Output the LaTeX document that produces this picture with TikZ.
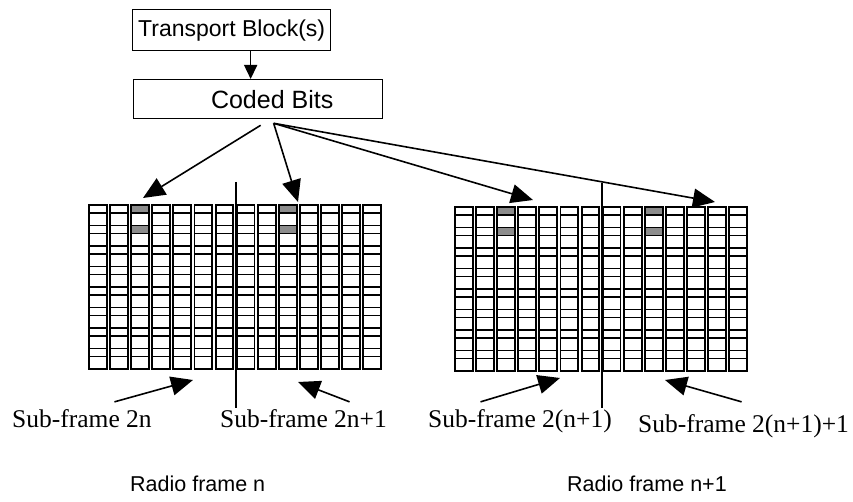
\documentclass[tikz,border=0pt]{standalone}
\usepackage{fontspec}
\setmainfont{Liberation Serif}
\setsansfont{Liberation Sans}
\usetikzlibrary{arrows.meta}

\begin{document}
\begin{tikzpicture}[x=1pt, y=-1pt,
  box/.style={rectangle, draw=black, line width=1.3pt, inner sep=0pt,
              font=\sffamily\fontsize{23}{26}\selectfont},
  cell/.style={draw=black, fill=white, line width=1.9pt},
  hit/.style={cell, fill=black!45},
  arr/.style={-{Triangle[length=22pt, width=19pt]}, line width=1.6pt},
  small arr/.style={-{Triangle[length=14pt, width=13pt]}, line width=1.6pt},
  divider/.style={line width=1.5pt},
  sub/.style={anchor=base west, inner sep=0pt, font=\fontsize{25.5}{28}\selectfont},
  radio/.style={anchor=base west, inner sep=0pt, font=\sffamily\fontsize{21.5}{24}\selectfont}]

  \useasboundingbox (0,0) rectangle (853,502);

  % two radio frames, 14 symbols wide, short/tall row pairs
  \foreach \gx/\gy in {89/205, 455/207}{
    \foreach \c in {0,...,13}{
      \foreach \r in {0,...,7}{
        \draw[cell] ({\gx+\c*21.1}, {\gy+\r*20.5}) rectangle ++(17.8, 8);
        \draw[cell] ({\gx+\c*21.1}, {\gy+\r*20.5+8}) rectangle ++(17.8, 12.5);
      }
    }
    \foreach \c in {2,9}
      \foreach \r in {0,1}
        \draw[hit] ({\gx+\c*21.1}, {\gy+\r*20.5}) rectangle ++(17.8, 8);
  }

  \node[box, anchor=north west, minimum width=198pt, minimum height=41pt] (tb) at (132,9) {Transport Block(s)};
  \node[box, anchor=north west, minimum width=249pt, minimum height=39pt,
        font=\sffamily\fontsize{25}{28}\selectfont] (cd) at (133,79) {\hspace*{28pt}Coded Bits};
  \draw[small arr] ([xshift=19pt]tb.south) -- ([xshift=-7.5pt]cd.north);

  \coordinate (hitA) at (143,198);
  \coordinate (hitB) at (298,202);
  \coordinate (hitC) at (533,200);
  \coordinate (hitD) at (715,202);
  \draw[arr] ([xshift=2.5pt, yshift=-6pt]cd.south) -- (hitA);
  \draw[arr] ([xshift=15.5pt, yshift=-4pt]cd.south) -- (hitB);
  \draw[arr] ([xshift=15.5pt, yshift=-4pt]cd.south) -- (hitC);
  \draw[arr] ([xshift=15.5pt, yshift=-4pt]cd.south) -- (hitD);

  \draw[divider] (236,182) -- (236,408);
  \draw[divider] (602,183) -- (602,408);

  \node[sub] (sfA) at (12,427) {Sub-frame 2n};
  \node[sub] (sfB) at (220,427) {Sub-frame 2n+1};
  \node[sub] (sfC) at (428,427) {Sub-frame 2(n+1)};
  \node[sub] (sfD) at (638,432) {Sub-frame 2(n+1)+1};

  \coordinate (subA) at (193,380);
  \coordinate (subB) at (298,382);
  \coordinate (subC) at (560,378);
  \coordinate (subD) at (665,380);
  \draw[arr] ([xshift=32.5pt, yshift=7pt]sfA.north) -- (subA);
  \draw[arr] ([xshift=46pt, yshift=7pt]sfB.north) -- (subB);
  \draw[arr] ([xshift=-39.5pt, yshift=7pt]sfC.north) -- (subC);
  \draw[arr] ([xshift=-2pt, yshift=12pt]sfD.north) -- (subD);

  \node[radio] (rfA) at (130,491) {Radio frame n};
  \node[radio] (rfB) at (567,491) {Radio frame n+1};
\end{tikzpicture}
\end{document}
